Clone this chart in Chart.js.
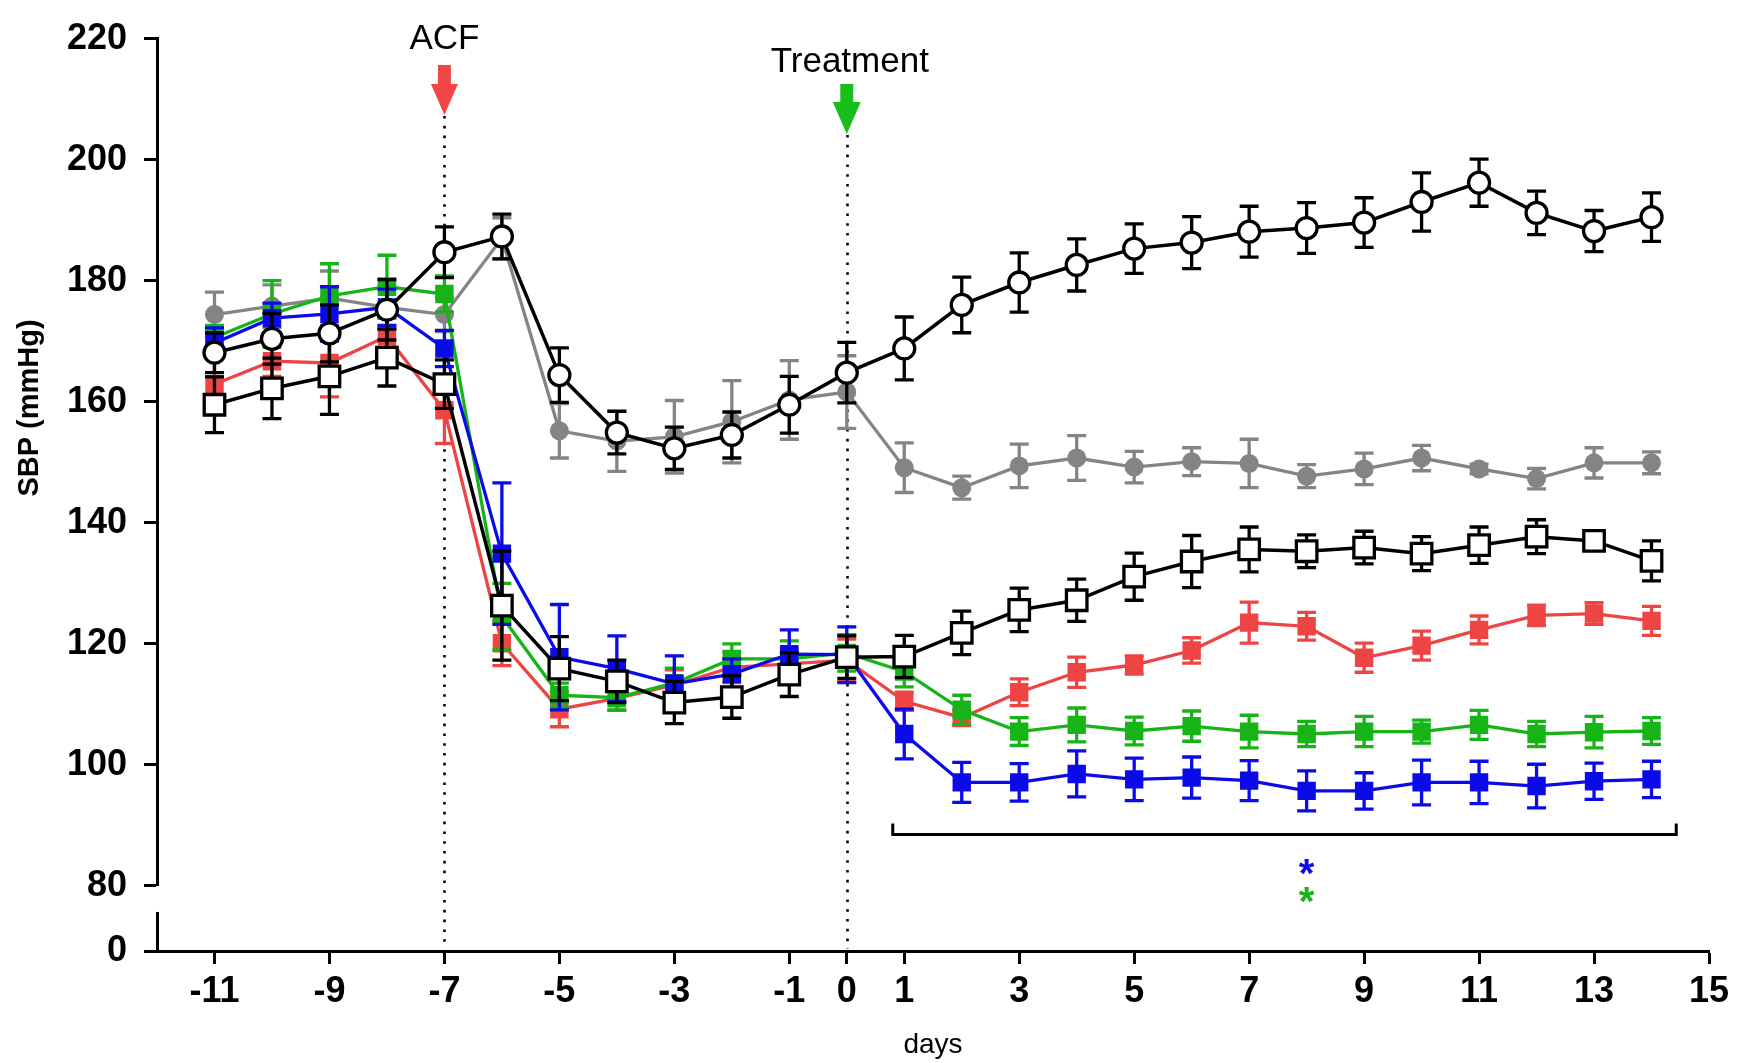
<!DOCTYPE html>
<html>
<head>
<meta charset="utf-8">
<title>SBP after ACF and treatment</title>
<script src="https://cdn.jsdelivr.net/npm/chart.js@4.4.1/dist/chart.umd.min.js"></script>
<style>
  html, body { margin: 0; padding: 0; background: #fff; }
  #wrap { width: 1750px; height: 1063px; }
</style>
</head>
<body>
<div id="wrap"><canvas id="sbp" width="1750" height="1063"></canvas></div>
<script>
const FONT = "'Liberation Sans', Arial, Helvetica, sans-serif";

const days = [-11, -10, -9, -8, -7, -6, -5, -4, -3, -2, -1, 0, 1, 2, 3, 4, 5, 6, 7, 8, 9, 10, 11, 12, 13, 14];
const xTickValues = [-11, -9, -7, -5, -3, -1, 0, 1, 3, 5, 7, 9, 11, 13, 15];
const yTickUpper = [80, 100, 120, 140, 160, 180, 200, 220];

// open circles (black)
const openCircle = [168.1, 170.4, 171.3, 175.2, 184.7, 187.3, 164.4, 154.9, 152.3, 154.5, 159.5, 164.8, 168.8, 176.0, 179.7, 182.6, 185.3, 186.3, 188.1, 188.7, 189.6, 193.0, 196.2, 191.2, 188.2, 190.5];
const openCircleSem = [3.3, 4.2, 4.7, 5.0, 4.2, 3.7, 4.5, 3.5, 3.5, 3.8, 4.7, 5.0, 5.2, 4.6, 4.9, 4.3, 4.1, 4.3, 4.2, 4.2, 4.1, 4.8, 3.9, 3.6, 3.4, 4.0];

// filled circles (grey)
const greyCircle = [174.4, 175.8, 177.1, 175.6, 174.4, 187.0, 155.2, 153.5, 154.2, 156.7, 160.3, 161.6, 149.1, 145.8, 149.4, 150.7, 149.2, 150.1, 149.8, 147.7, 148.9, 150.7, 148.9, 147.3, 149.9, 149.9];
const greyCircleSem = [3.7, 3.5, 4.5, 3.5, 2.8, 3.4, 4.5, 5.0, 6.0, 6.8, 6.5, 6.0, 4.1, 1.9, 3.6, 3.7, 2.6, 2.3, 4.0, 1.9, 2.6, 2.1, 0.8, 1.7, 2.5, 1.8];

// open squares (black)
const openSquare = [159.5, 162.2, 164.2, 167.3, 162.9, 126.3, 115.9, 113.8, 110.3, 111.2, 114.9, 117.8, 117.9, 121.8, 125.6, 127.2, 131.1, 133.6, 135.6, 135.3, 135.9, 134.9, 136.3, 137.7, 137.0, 133.7];
const openSquareSem = [4.6, 5.0, 6.3, 4.7, 4.0, 9.0, 5.3, 3.5, 3.5, 3.5, 3.6, 3.5, 3.5, 3.6, 3.6, 3.5, 3.9, 4.3, 3.7, 2.7, 2.7, 2.8, 3.0, 2.8, 1.0, 3.3];

// filled squares (red)
const redSquare = [162.9, 166.7, 166.4, 170.8, 158.6, 120.1, 109.2, 111.0, 113.2, 116.1, 116.7, 117.3, 110.5, 107.8, 112.0, 115.3, 116.5, 118.9, 123.5, 122.9, 117.7, 119.7, 122.3, 124.7, 125.0, 123.8];
const redSquareSem = [5.0, 2.5, 5.6, 3.0, 5.5, 3.7, 2.9, 2.0, 2.5, 2.5, 2.5, 3.5, 1.5, 1.3, 2.2, 2.5, 1.5, 2.1, 3.4, 2.3, 2.4, 2.4, 2.3, 1.7, 1.8, 2.4];

// filled squares (green)
const greenSquare = [170.6, 174.5, 177.5, 179.0, 177.8, 124.5, 111.5, 111.1, 113.5, 117.5, 117.5, 118.5, 115.4, 109.1, 105.5, 106.6, 105.6, 106.4, 105.5, 105.1, 105.5, 105.5, 106.6, 105.1, 105.4, 105.6];
const greenSquareSem = [2.0, 5.5, 5.3, 5.2, 3.0, 5.5, 2.0, 2.0, 2.5, 2.5, 3.0, 3.0, 2.5, 2.4, 2.3, 2.8, 2.3, 2.5, 2.7, 2.1, 2.5, 1.9, 2.4, 2.1, 2.6, 2.2];

// filled squares (blue)
const blueSquare = [169.7, 173.8, 174.5, 175.6, 168.8, 134.9, 117.8, 115.9, 113.4, 115.0, 118.3, 118.2, 105.1, 97.1, 97.1, 98.5, 97.6, 97.9, 97.4, 95.7, 95.7, 97.1, 97.1, 96.5, 97.3, 97.6];
const blueSquareSem = [2.5, 2.5, 4.5, 3.0, 3.0, 11.7, 8.7, 5.4, 4.6, 2.5, 4.0, 4.6, 4.1, 3.3, 3.1, 3.8, 3.5, 3.4, 3.3, 3.3, 3.0, 3.7, 3.5, 3.6, 3.0, 3.0];

// significance bracket (days 1-14)
const bracketFrom = 0.8;
const bracketTo = 14.43;
const bracketLevel = 88.5;
const starDay = 8;

const RED = '#ef4444';
const GREEN = '#16b416';
const BLUE = '#0b0bea';
const GREY = '#848484';

function series(label, values, sem, style) {
  return Object.assign({
    label,
    yAxisID: 'y',
    data: days.map((d, i) => ({ x: d, y: values[i] })),
    errors: sem,
    borderWidth: 3.3,
    tension: 0,
    fill: false
  }, style);
}

const datasets = [
  series('open circle', openCircle, openCircleSem, {
    borderColor: '#000', borderWidth: 3.5, pointStyle: 'circle', pointRadius: 10.5,
    pointBorderWidth: 3.3, pointBorderColor: '#000', pointBackgroundColor: '#fff'
  }),
  series('open square', openSquare, openSquareSem, {
    borderColor: '#000', borderWidth: 3.5, pointStyle: 'rect', pointRadius: 14.5,
    pointBorderWidth: 3.3, pointBorderColor: '#000', pointBackgroundColor: '#fff'
  }),
  series('blue', blueSquare, blueSquareSem, {
    borderColor: BLUE, pointStyle: 'rect', pointRadius: 13,
    pointBorderWidth: 0, pointBackgroundColor: BLUE
  }),
  series('green', greenSquare, greenSquareSem, {
    borderColor: GREEN, pointStyle: 'rect', pointRadius: 13,
    pointBorderWidth: 0, pointBackgroundColor: GREEN
  }),
  series('red', redSquare, redSquareSem, {
    borderColor: RED, pointStyle: 'rect', pointRadius: 13,
    pointBorderWidth: 0, pointBackgroundColor: RED
  }),
  series('grey', greyCircle, greyCircleSem, {
    borderColor: GREY, pointStyle: 'circle', pointRadius: 9.5,
    pointBorderWidth: 0, pointBackgroundColor: GREY
  })
];

function alignPx(p, w) {
  return Math.round(p - w / 2) + w / 2;
}

// SEM bars, drawn just before each dataset so markers cover them
const errorBars = {
  id: 'errorBars',
  beforeDatasetDraw(chart, args) {
    const ds = chart.data.datasets[args.index];
    if (!ds.errors) return;
    const yScale = chart.scales[args.meta.yAxisID];
    const ctx = chart.ctx;
    ctx.save();
    ctx.strokeStyle = ds.borderColor;
    ctx.lineWidth = 3.3;
    args.meta.data.forEach((pt, i) => {
      const v = ds.data[i].y, e = ds.errors[i];
      const top = yScale.getPixelForValue(v + e);
      const bot = yScale.getPixelForValue(v - e);
      ctx.beginPath();
      ctx.moveTo(pt.x, top); ctx.lineTo(pt.x, bot);
      ctx.moveTo(pt.x - 9.5, top); ctx.lineTo(pt.x + 9.5, top);
      ctx.moveTo(pt.x - 9.5, bot); ctx.lineTo(pt.x + 9.5, bot);
      ctx.stroke();
    });
    ctx.restore();
  }
};

function drawArrow(ctx, cx, top, shaftEnd, tip, shaftW, headW, color) {
  ctx.fillStyle = color;
  ctx.beginPath();
  ctx.moveTo(cx - shaftW / 2, top);
  ctx.lineTo(cx + shaftW / 2, top);
  ctx.lineTo(cx + shaftW / 2, shaftEnd);
  ctx.lineTo(cx + headW / 2, shaftEnd);
  ctx.lineTo(cx, tip);
  ctx.lineTo(cx - headW / 2, shaftEnd);
  ctx.lineTo(cx - shaftW / 2, shaftEnd);
  ctx.closePath();
  ctx.fill();
}

const overlay = {
  id: 'overlay',
  beforeDatasetsDraw(chart) {
    const { ctx, scales: { x, y0 } } = chart;
    const base = y0.getPixelForValue(0);
    ctx.save();
    ctx.strokeStyle = '#000';
    ctx.lineWidth = 2.6;
    ctx.setLineDash([2.6, 7.2]);
    [[-7, 116], [0, 135]].forEach(([d, from]) => {
      const px = Math.round(x.getPixelForValue(d)) + 0.5;
      ctx.beginPath();
      ctx.moveTo(px, from);
      ctx.lineTo(px, base - 2);
      ctx.stroke();
    });
    ctx.restore();
  },
  afterDraw(chart) {
    const { ctx, scales: { x, y, y0 } } = chart;
    ctx.save();

    // lower segment of the broken y axis
    const ax = alignPx(y0.right, 3);
    ctx.strokeStyle = '#000';
    ctx.lineWidth = 3;
    ctx.beginPath();
    ctx.moveTo(ax, y0.getPixelForValue(6));
    ctx.lineTo(ax, y0.getPixelForValue(0));
    ctx.stroke();

    // y axis title
    ctx.fillStyle = '#000';
    ctx.font = 'bold 29px ' + FONT;
    ctx.textAlign = 'center';
    ctx.textBaseline = 'middle';
    ctx.save();
    ctx.translate(30, 408);
    ctx.rotate(-Math.PI / 2);
    ctx.fillText('SBP (mmHg)', 0, 0);
    ctx.restore();

    // event markers
    const acfX = x.getPixelForValue(-7);
    const trtX = x.getPixelForValue(0);
    drawArrow(ctx, acfX, 65, 84, 115, 13, 27, '#f24646');
    drawArrow(ctx, trtX, 84, 102, 134, 13, 28, '#19bf19');
    ctx.fillStyle = '#000';
    ctx.font = '35px ' + FONT;
    ctx.textBaseline = 'alphabetic';
    ctx.fillText('ACF', acfX, 49);
    ctx.fillText('Treatment', trtX + 3, 72);

    // significance bracket
    const bx1 = x.getPixelForValue(bracketFrom);
    const bx2 = x.getPixelForValue(bracketTo);
    const by = y.getPixelForValue(bracketLevel);
    ctx.strokeStyle = '#000';
    ctx.lineWidth = 3;
    ctx.beginPath();
    ctx.moveTo(bx1, by - 11);
    ctx.lineTo(bx1, by);
    ctx.lineTo(bx2, by);
    ctx.lineTo(bx2, by - 11);
    ctx.stroke();

    const sx = x.getPixelForValue(starDay);
    ctx.font = 'bold 40px ' + FONT;
    ctx.fillStyle = BLUE;
    ctx.fillText('*', sx, by + 53);
    ctx.fillStyle = GREEN;
    ctx.fillText('*', sx, by + 81);
    ctx.restore();
  }
};

const tickFont = { family: FONT, size: 36, weight: 'bold' };

new Chart(document.getElementById('sbp'), {
  type: 'line',
  data: { datasets },
  options: {
    responsive: false,
    devicePixelRatio: 1,
    animation: false,
    events: [],
    layout: { padding: { top: 23, right: 41, left: 0, bottom: 0 } },
    plugins: { legend: { display: false }, tooltip: { enabled: false } },
    scales: {
      x: {
        type: 'linear',
        min: -12,
        max: 15,
        afterBuildTicks: s => { s.ticks = xTickValues.map(v => ({ value: v })); },
        afterFit: s => { s.height = 112; },
        ticks: { color: '#000', font: tickFont, padding: 6, maxRotation: 0, autoSkip: false,
                 callback: v => String(v) },
        grid: { drawOnChartArea: false, drawTicks: true, tickLength: 13, tickWidth: 3, tickColor: '#000' },
        border: { display: true, color: '#000', width: 3 },
        title: { display: true, text: 'days', color: '#000', font: { family: FONT, size: 28 }, padding: { top: 0, bottom: 1 } }
      },
      y0: {
        type: 'linear',
        position: 'left',
        stack: 'sbp',
        stackWeight: 66.2,
        min: 0,
        max: 10,
        afterBuildTicks: s => { s.ticks = [{ value: 0 }, { value: 6 }]; },
        afterFit: s => { s.width = 157; },
        ticks: { color: '#000', font: tickFont, padding: 17, callback: v => (v === 0 ? '0' : '') },
        grid: { drawOnChartArea: false, drawTicks: true, tickLength: 13, tickWidth: 3, tickColor: '#000' },
        border: { display: false }
      },
      y: {
        type: 'linear',
        position: 'left',
        stack: 'sbp',
        stackWeight: 861.8,
        min: 80,
        max: 220,
        afterBuildTicks: s => { s.ticks = yTickUpper.map(v => ({ value: v })); },
        afterFit: s => { s.width = 157; },
        ticks: { color: '#000', font: tickFont, padding: 17 },
        grid: { drawOnChartArea: false, drawTicks: true, tickLength: 13, tickWidth: 3, tickColor: '#000' },
        border: { display: true, color: '#000', width: 3 }
      }
    }
  },
  plugins: [errorBars, overlay]
});
</script>
</body>
</html>
